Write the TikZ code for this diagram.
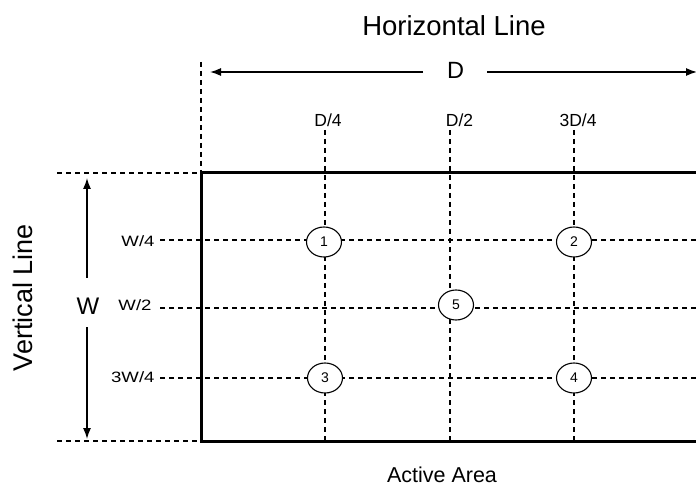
\documentclass[tikz,border=0pt]{standalone}
\usepackage{fontspec}
\setmainfont{Liberation Sans}
\usetikzlibrary{arrows.meta,shapes.geometric}
\begin{document}
\begin{tikzpicture}[x=1pt,y=-1pt,
  dsh/.style={line width=1.4pt,dash pattern=on 5pt off 4pt},
  arr/.style={line width=1.3pt,-{Latex[length=11pt,width=8pt]}},
  pt/.style={ellipse,draw,line width=1.1pt,fill=white,minimum width=35pt,minimum height=30pt,inner sep=0pt,font=\fontsize{14}{14}\selectfont},
  lbl/.style={font=\fontsize{17.5}{17.5}\selectfont,inner sep=1pt},
  wlbl/.style={font=\fontsize{15}{15}\selectfont,inner sep=1pt,xscale=1.24,transform shape},
  big/.style={font=\fontsize{27.5}{27.5}\selectfont,inner sep=1pt}]
\clip (0,0) rectangle (696,486);
\fill[white] (0,0) rectangle (696,486);
% vertical dashed lines
\draw[dsh] (201,62) -- (201,173);
\draw[dsh] (325,130) -- (325,441);
\draw[dsh] (450,130) -- (450,441);
\draw[dsh] (574,130) -- (574,441);
% horizontal dashed lines
\draw[dsh] (160,240) -- (760,240);
\draw[dsh] (160,308) -- (760,308);
\draw[dsh] (160,378) -- (760,378);
\draw[dsh] (57,173) -- (201,173);
\draw[dsh] (57,441) -- (201,441);
% active area rectangle
\draw[line width=3pt] (201,173) rectangle (780,441);
% labels
\node[big] (hl) at (454,26) {Horizontal Line};
\node[font=\fontsize{23.5}{23.5}\selectfont,inner sep=1pt] (D) at (455.5,70) {D};
\coordinate (dl) at (210,72);
\coordinate (dr) at (697,72);
\coordinate (dlg) at (423,72);
\coordinate (drg) at (487,72);
\draw[arr] (dlg) -- (dl);
\draw[arr] (drg) -- (dr);
\node[lbl] (d4) at (328,120) {D/4};
\node[lbl] (d2) at (459.5,120) {D/2};
\node[lbl] (d34) at (578,120) {3D/4};
\node[font=\fontsize{27}{27}\selectfont,inner sep=0pt,rotate=90] (vl) at (23,297.5) {Vertical Line};
\node[font=\fontsize{24}{24}\selectfont,inner sep=1pt] (W) at (88,306) {W};
\coordinate (wt) at (87,178);
\coordinate (wb) at (87,439);
\coordinate (wtg) at (87,278);
\coordinate (wbg) at (87,327);
\draw[arr] (wtg) -- (wt);
\draw[arr] (wbg) -- (wb);
\node[wlbl,anchor=east] (w4) at (156,241) {W/4};
\node[wlbl,anchor=east] (w2) at (153,305) {W/2};
\node[wlbl,anchor=east] (w34) at (156,377) {3W/4};
\node[font=\fontsize{21.5}{21.5}\selectfont,inner sep=1pt] (aa) at (442,474.5) {Active Area};
% measurement points
\node[pt] (p1) at (324,242) {1};
\node[pt] (p2) at (574,242) {2};
\node[pt] (p5) at (456,305) {5};
\node[pt] (p3) at (325,378) {3};
\node[pt] (p4) at (574,378) {4};
\end{tikzpicture}
\end{document}
